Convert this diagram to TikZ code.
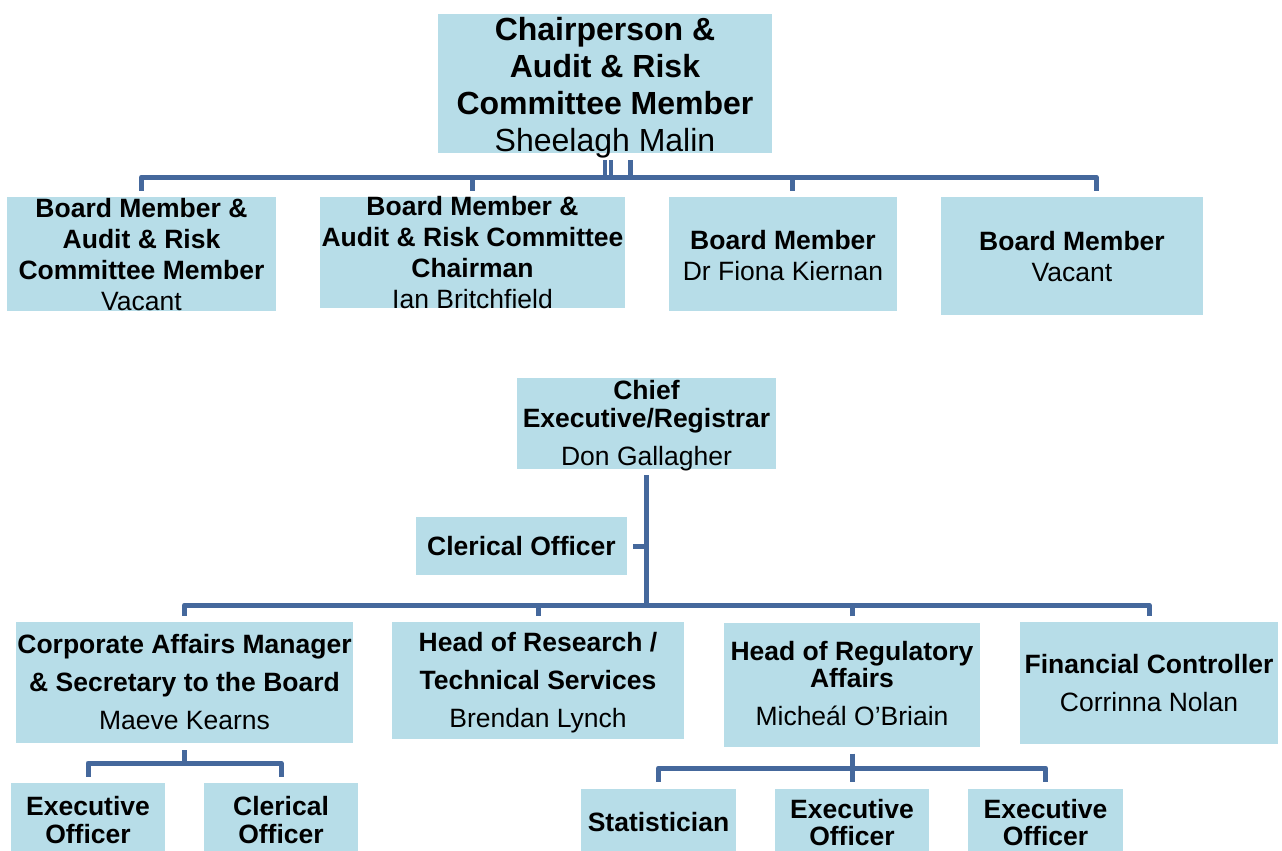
\documentclass[tikz,border=0pt]{standalone}
\usepackage{fontspec}
\setmainfont{Liberation Sans}
\newcommand\fsz[2]{\fontsize{#1}{#2}\selectfont}
\newcommand\B[1]{\textbf{#1}}
\definecolor{boxfill}{HTML}{B7DDE8}
\definecolor{linec}{HTML}{45689C}
\begin{document}
\begin{tikzpicture}[x=1pt,y=-1pt,
  box/.style={fill=boxfill,inner sep=0pt,align=center,font=\fsz{26.5}{31},text depth=0pt},
  conn/.style={draw=linec,line width=5pt,line join=round}]
\useasboundingbox (0,0) rectangle (1282,851);
\clip (0,0) rectangle (1282,851);
\fill[white] (0,0) rectangle (1282,851);

% board
\node[box,minimum width=334pt,minimum height=139pt,font=\fsz{32}{37},text height=136pt] (chair) at (605,83.5)
  {\B{Chairperson \&}\\\B{Audit \& Risk}\\\B{Committee Member}\\Sheelagh Malin};
\node[box,minimum width=269pt,minimum height=114pt,text height=113pt] (b1) at (141.5,254)
  {\B{Board Member \&}\\\B{Audit \& Risk}\\\B{Committee Member}\\Vacant};
\node[box,minimum width=305pt,minimum height=111pt,text height=111pt] (b2) at (472.5,252.5)
  {\B{Board Member \&}\\\B{Audit \& Risk Committee}\\\B{Chairman}\\Ian Britchfield};
\node[box,minimum width=228pt,minimum height=114pt,text height=53pt] (b3) at (783,254)
  {\B{Board Member}\\Dr Fiona Kiernan};
\node[box,minimum width=262pt,minimum height=118pt,text height=51pt] (b4) at (1072,256)
  {\B{Board Member}\\Vacant};

% executive
\node[box,minimum width=259pt,minimum height=91pt,font=\fsz{26.5}{28},text height=84pt] (chief) at (646.5,423.5)
  {\B{Chief}\\\B{Executive/Registrar}\\[10pt]Don Gallagher};
\node[box,minimum width=211pt,minimum height=58pt,text height=19pt] (clk) at (521.5,546)
  {\B{Clerical Officer}};
\node[box,minimum width=337pt,minimum height=121pt,font=\fsz{26.5}{38},text height=94pt] (corp) at (184.5,682.5)
  {\B{Corporate Affairs Manager}\\\B{\& Secretary to the Board}\\Maeve Kearns};
\node[box,minimum width=292pt,minimum height=117pt,font=\fsz{26.5}{38},text height=94pt] (res) at (538,680.5)
  {\B{Head of Research /}\\\B{Technical Services}\\Brendan Lynch};
\node[box,minimum width=256pt,minimum height=124pt,font=\fsz{26.5}{27},text height=82pt] (reg) at (852,684.5)
  {\B{Head of Regulatory}\\\B{Affairs}\\[11pt]Miche\'al O'Briain};
\node[box,minimum width=258pt,minimum height=122pt,font=\fsz{26.5}{38},text height=57pt] (fin) at (1149,683)
  {\B{Financial Controller}\\Corrinna Nolan};

% bottom row
\node[box,minimum width=154pt,minimum height=74pt,font=\fsz{26.5}{28},text height=47pt] (e1) at (88,820)
  {\B{Executive}\\\B{Officer}};
\node[box,minimum width=154pt,minimum height=74pt,font=\fsz{26.5}{28},text height=47pt] (c2) at (281,820)
  {\B{Clerical}\\\B{Officer}};
\node[box,minimum width=155pt,minimum height=66pt,text height=19pt] (stat) at (658.5,822)
  {\B{Statistician}};
\node[box,minimum width=154pt,minimum height=68pt,font=\fsz{26.5}{27},text height=45pt] (e2) at (852,823)
  {\B{Executive}\\\B{Officer}};
\node[box,minimum width=155pt,minimum height=68pt,font=\fsz{26.5}{27},text height=45pt] (e3) at (1045.5,823)
  {\B{Executive}\\\B{Officer}};

% top connectors
\coordinate (tb) at (617,177);
\coordinate (b3d) at ([xshift=9pt,yshift=6pt]b3.north);
\coordinate (b4d) at ([xshift=24pt,yshift=6pt]b4.north);
\draw[conn] ([yshift=6pt]b1.north) |- (b4d |- tb) -- (b4d);
\draw[conn] ([yshift=6pt]b2.north) -- (b2.north |- tb);
\draw[conn] (b3d) -- (b3d |- tb);
\coordinate (ch1) at ([yshift=-7pt]chair.south);
\coordinate (ch2) at ([xshift=6pt,yshift=-7pt]chair.south);
\coordinate (ch3) at ([xshift=25pt,yshift=-7pt]chair.south);
\draw[conn,line width=4pt] (ch1) -- (ch1 |- tb);
\draw[conn,line width=4pt] (ch2) -- (ch2 |- tb);
\draw[conn] (ch3) -- (ch3 |- tb);

% executive connectors
\coordinate (mb) at (647,605);
\draw[conn] ([yshift=-6pt]chief.south) -- (chief.south |- mb);
\draw[conn] ([yshift=6pt]corp.north) |- (mb) -| ([yshift=6pt]fin.north);
\draw[conn] ([yshift=6pt]res.north) -- (res.north |- mb);
\draw[conn] ([yshift=6pt]reg.north) -- (reg.north |- mb);
\draw[conn] ([xshift=6pt]clk.east) -- (clk.east -| chief.south);

% corporate sub
\coordinate (cb) at (184.5,763);
\draw[conn] ([yshift=-7pt]corp.south) -- (corp.south |- cb);
\draw[conn] ([yshift=6pt]e1.north) |- (cb) -| ([yshift=6pt]c2.north);

% regulatory sub
\coordinate (rb) at (852,768);
\draw[conn] ([yshift=-7pt]reg.south) -- (reg.south |- rb);
\draw[conn] ([yshift=7pt]stat.north) |- (rb) -| ([yshift=7pt]e3.north);
\draw[conn] ([yshift=7pt]e2.north) -- (e2.north |- rb);
\end{tikzpicture}
\end{document}
